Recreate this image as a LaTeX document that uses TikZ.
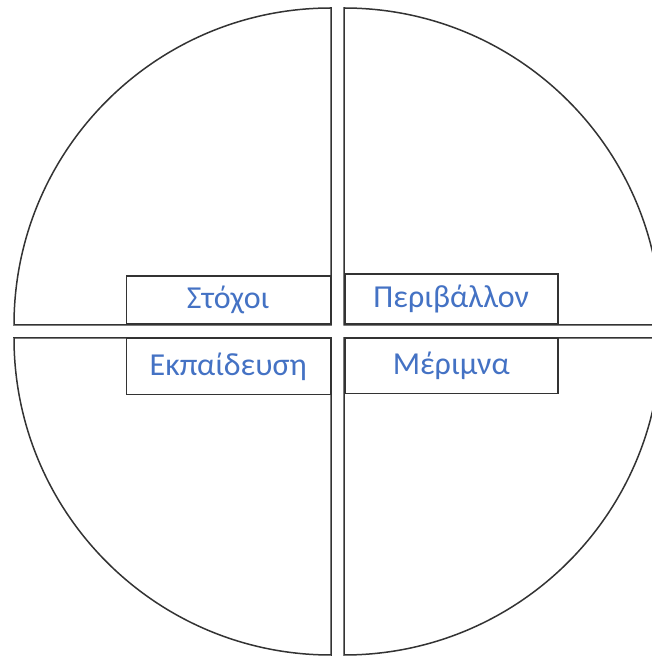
\documentclass[tikz,border=0pt]{standalone}
\usepackage{fontspec}
\setmainfont{Carlito}
\definecolor{txtblue}{HTML}{4472C4}
\definecolor{edge}{HTML}{333333}
\begin{document}
\begin{tikzpicture}[x=1pt,y=1pt,
  quarter/.style={draw=edge,line width=1.5pt,fill=white},
  lbl/.style={draw=edge,line width=1.5pt,fill=white,rectangle,inner sep=0pt,
    text=txtblue,font=\fontsize{32}{36}\selectfont}]
\useasboundingbox (0,0) rectangle (652,659);
\clip (0,0) rectangle (652,659);
% quarters
\coordinate (tl) at (331,334);
\coordinate (tr) at (344,334);
\coordinate (bl) at (331,321);
\coordinate (br) at (344,321);
\draw[quarter] (tl) -- ++(-317,0) arc[start angle=180,end angle=90,radius=317] -- cycle;
\draw[quarter] (tr) -- ++(0,317) arc[start angle=90,end angle=0,radius=317] -- cycle;
\draw[quarter] (bl) -- ++(0,-317) arc[start angle=270,end angle=180,radius=317] -- cycle;
\draw[quarter] (br) -- ++(317,0) arc[start angle=0,end angle=-90,radius=317] -- cycle;
% labels
\node[lbl,minimum width=204pt,minimum height=48pt,anchor=south east] (stoxoi) at (tl) {Στόχοι};
\node[lbl,minimum width=213pt,minimum height=50pt,anchor=south west] (perib) at (tr) {Περιβάλλον};
\node[lbl,minimum width=204pt,minimum height=56pt,anchor=north east] (ekp) at (bl) {Εκπαίδευση};
\node[lbl,minimum width=213pt,minimum height=55pt,anchor=north west] (merimna) at (br) {Μέριμνα};
\end{tikzpicture}
\end{document}
